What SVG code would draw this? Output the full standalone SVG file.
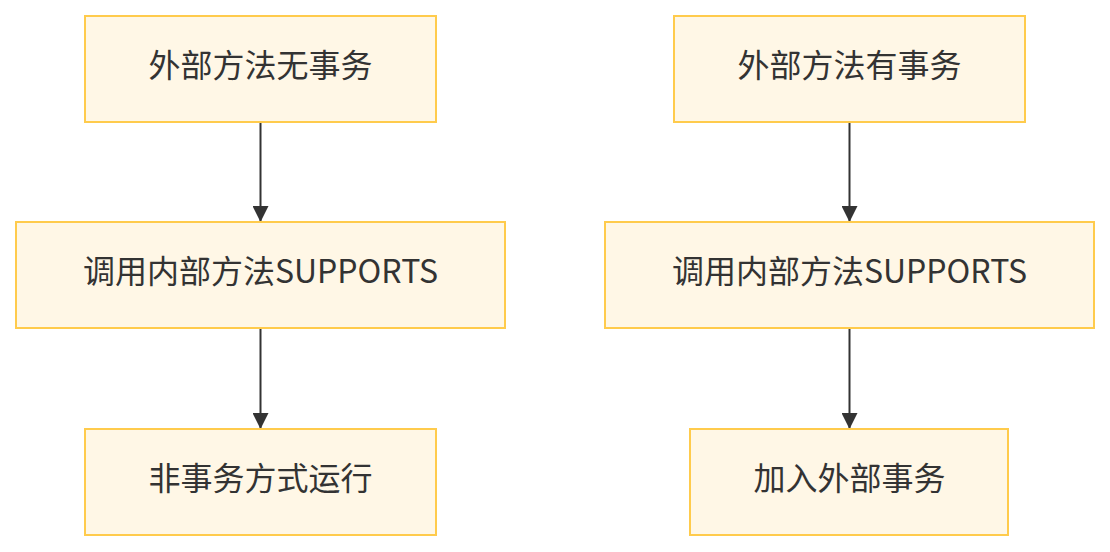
<svg xmlns="http://www.w3.org/2000/svg" width="1110" height="552" viewBox="0 0 1110 552">
<style>
.box{fill:#fff7e6;stroke:#ffcb4c;stroke-width:2}
.lbl{font-family:"Noto Sans CJK SC","Noto Sans",sans-serif;font-size:32px;fill:#333;text-anchor:middle;dominant-baseline:central}
.edge{stroke:#333;stroke-width:2;fill:none;marker-end:url(#arr)}
</style>
<defs>
<marker id="arr" markerWidth="16" markerHeight="16" refX="16" refY="8" orient="auto" markerUnits="userSpaceOnUse" viewBox="0 0 16 16">
<path d="M0,0 L16,8 L0,16 Z" fill="#333"/>
</marker>
</defs>
<rect width="1110" height="552" fill="#fff"/>
<g id="connectors">
<line class="edge" x1="260.5" y1="123" x2="260.5" y2="222"/>
<line class="edge" x1="260.5" y1="329" x2="260.5" y2="429"/>
<line class="edge" x1="849.5" y1="123" x2="849.5" y2="222"/>
<line class="edge" x1="849.5" y1="329" x2="849.5" y2="429"/>
</g>
<g id="L1"><rect class="box" x="85" y="16" width="351" height="106"/><text class="lbl" x="260.5" y="63">外部方法无事务</text></g>
<g id="L2"><rect class="box" x="16" y="222" width="489" height="106"/><text class="lbl" x="260.5" y="269">调用内部方法SUPPORTS</text></g>
<g id="L3"><rect class="box" x="85" y="429" width="351" height="106"/><text class="lbl" x="260.5" y="476">非事务方式运行</text></g>
<g id="R1"><rect class="box" x="674" y="16" width="351" height="106"/><text class="lbl" x="849.5" y="63">外部方法有事务</text></g>
<g id="R2"><rect class="box" x="605" y="222" width="489" height="106"/><text class="lbl" x="849.5" y="269">调用内部方法SUPPORTS</text></g>
<g id="R3"><rect class="box" x="690" y="429" width="318" height="106"/><text class="lbl" x="849.5" y="476">加入外部事务</text></g>
</svg>
